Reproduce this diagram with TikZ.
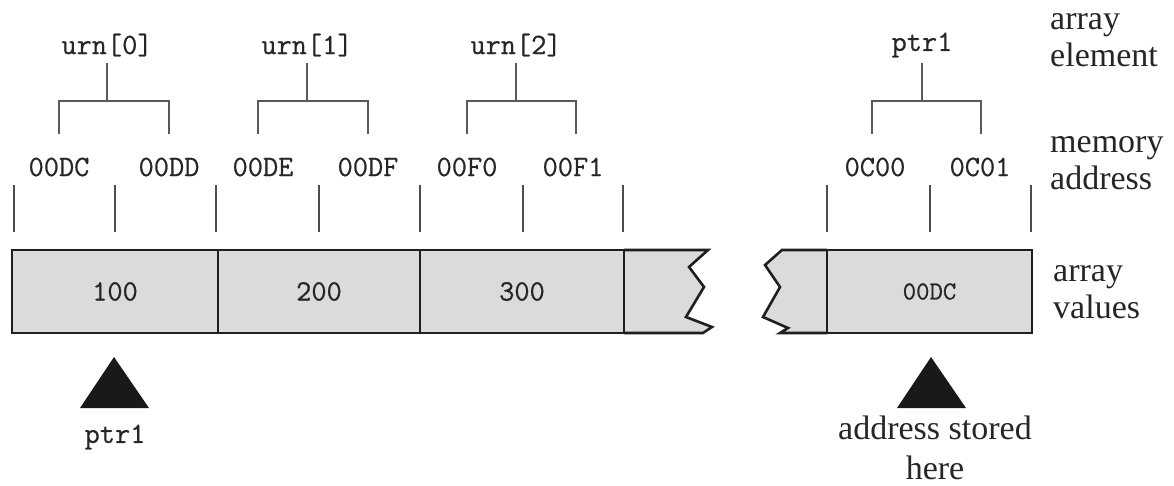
\documentclass[tikz,border=0pt]{standalone}
\usepackage{fontspec}
\setmainfont{Liberation Serif}
\setmonofont[FakeBold=0.6]{Latin Modern Mono}
\begin{document}
\begin{tikzpicture}[x=1pt,y=-1pt,
  mono/.style={font=\fontsize{29.5}{32}\selectfont\ttfamily, text=black!85, inner sep=0pt},
  serif/.style={font=\fontsize{34}{37.5}\selectfont, text=black!85, align=left, inner sep=0pt},
  brk/.style={draw=black!65, line width=2pt},
  tick/.style={draw=black!70, line width=2pt},
  cellfill/.style={fill=black!14},
  cellline/.style={draw=black!88, line width=2.6pt, line join=miter},
  cell/.style={cellfill, cellline, minimum height=83pt, inner sep=0pt, font=\fontsize{29.5}{32}\selectfont\ttfamily, text=black!85},
  ptrmark/.style={fill=black!90}]
\useasboundingbox (0,0) rectangle (1174,485);

% element labels
\node[mono] (u0) at (107,45) {urn[0]};
\node[mono] (u1) at (307,45) {urn[1]};
\node[mono] (u2) at (516,45) {urn[2]};
\node[mono] (p1) at (922,45) {ptr1};

% address labels
\node[mono] (a0) at (59,167) {00DC};
\node[mono] (a1) at (169,167) {00DD};
\node[mono] (a2) at (263,167) {00DE};
\node[mono] (a3) at (368,167) {00DF};
\node[mono] (a4) at (467,167) {00F0};
\node[mono] (a5) at (573,167) {00F1};
\node[mono] (a6) at (875,167) {0C00};
\node[mono] (a7) at (980,167) {0C01};

% brackets
\foreach \u/\l/\r/\lx/\rx in {u0/a0/a1/59/169, u1/a2/a3/258/368, u2/a4/a5/467/576, p1/a6/a7/872/981}{
  \draw[brk] (\u.south |- 0,63) -- (\u.south |- 0,101);
  \draw[brk] (\lx,134) |- (\u.south |- 0,101) -| (\rx,134);
}

% ticks
\foreach \x in {14,115,216,319,420,523,623,827,930,1031}{
  \draw[tick] (\x,185) -- (\x,232);
}

% broken cells
\path[cellfill] (624,250) -- (708,250) -- (689,267) -- (704,287) -- (686,317) -- (712,327) -- (703,333) -- (624,333) -- cycle;
\draw[cellline] (624,250) -- (708,250) -- (689,267) -- (704,287) -- (686,317) -- (712,327) -- (703,333) -- (624,333);
\path[cellfill] (827,250) -- (782,250) -- (765,265) -- (780,287) -- (763,317) -- (788,328) -- (780,333) -- (827,333) -- cycle;
\draw[cellline] (827,250) -- (782,250) -- (765,265) -- (780,287) -- (763,317) -- (788,328) -- (780,333) -- (827,333);

% cells
\node[cell, minimum width=206pt] (c0) at (115,291.5) {100};
\node[cell, minimum width=202pt] (c1) at (319,291.5) {200};
\node[cell, minimum width=204pt] (c2) at (522,291.5) {300};
\node[cell, minimum width=205pt] (c3) at (929.5,291.5) {\fontsize{26}{28}\selectfont 00DC};

% pointers
\path[ptrmark] (114,357) -- (149,408) -- (80,408) -- cycle;
\path[ptrmark] (931,357) -- (966,408) -- (897,408) -- cycle;
\node[mono] (pl) at (115,437) {ptr1};
\node[serif, align=center, font=\fontsize{34}{40}\selectfont] (as) at (935,448) {address stored\\here};

% row captions
\node[serif, anchor=west] (r1) at (1050,40) {array\\element};
\node[serif, anchor=west] (r2) at (1050,163) {memory\\address};
\node[serif, anchor=west] (r3) at (1053,292) {array\\values};
\end{tikzpicture}
\end{document}
